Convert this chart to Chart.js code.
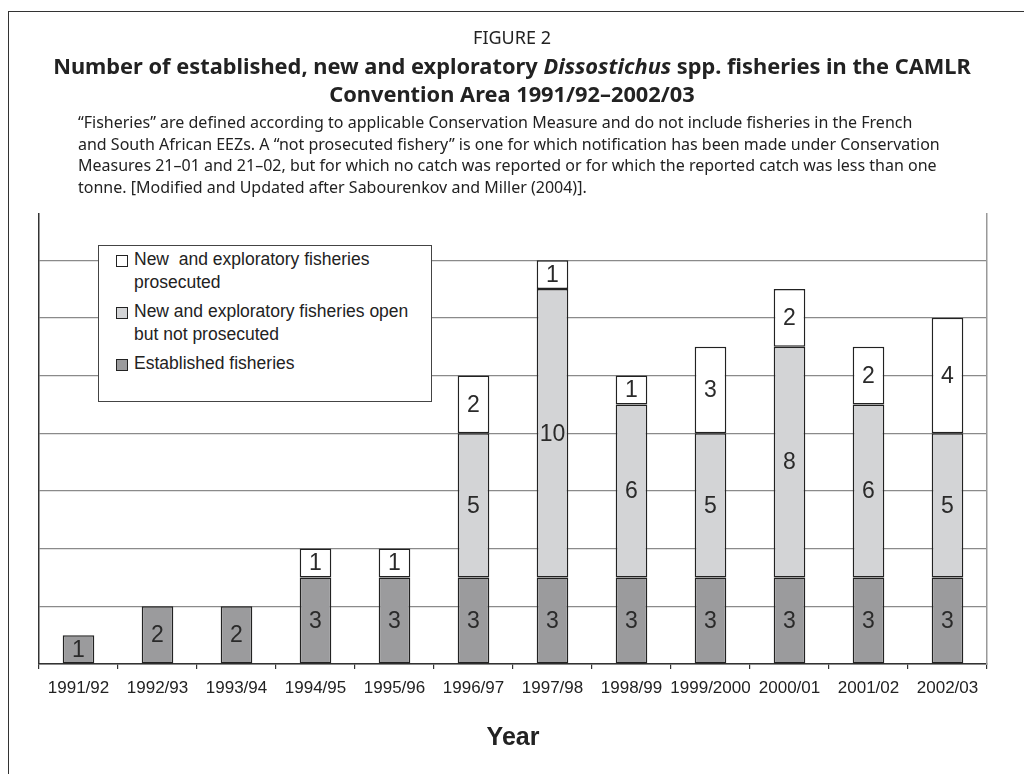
<!DOCTYPE html>
<html>
<head>
<meta charset="utf-8">
<script src="https://cdn.jsdelivr.net/npm/chart.js@4/dist/chart.umd.min.js"></script>
<style>
  html, body { margin:0; padding:0; background:#fff; }
  #wrap { position:relative; width:1024px; height:774px; overflow:hidden; }
  #frame { position:absolute; left:8px; top:11px; width:1100px; height:900px; border-top:1.5px solid #333; border-left:1.5px solid #333; }
  canvas#c { position:absolute; left:0; top:0; }
  .hd { position:absolute; left:0; width:1024px; text-align:center; color:#222; font-family:"Noto Sans",sans-serif; white-space:nowrap; }
  #fig { top:25px; font-size:18px; line-height:24px; }
  #ttl { top:52px; font-size:21.8px; font-weight:bold; line-height:28px; }
  #note { position:absolute; left:78px; top:112px; width:1000px; font-family:"Noto Sans",sans-serif; font-size:16px; line-height:21.5px; color:#222; white-space:nowrap; }
  #legend { position:absolute; left:98px; top:245px; width:332px; height:155px; border:1.5px solid #444; background:#fff; font-family:"Liberation Sans",Arial,sans-serif; font-size:17.5px; color:#222; }
  .it { position:absolute; left:35px; line-height:23px; white-space:pre; }
  .sw { position:absolute; left:17px; width:10px; height:10px; border:1.3px solid #222; }
</style>
</head>
<body>
<div id="wrap">
  <div id="frame"></div>
  <canvas id="c" width="1024" height="774"></canvas>
  <div class="hd" id="fig">FIGURE 2</div>
  <div class="hd" id="ttl">Number of established, new and exploratory <i>Dissostichus</i> spp. fisheries in the CAMLR<br>Convention Area 1991/92–2002/03</div>
  <div id="note">“Fisheries” are defined according to applicable Conservation Measure and do not include fisheries in the French<br>and South African EEZs. A “not prosecuted fishery” is one for which notification has been made under Conservation<br>Measures 21–01 and 21–02, but for which no catch was reported or for which the reported catch was less than one<br>tonne. [Modified and Updated after Sabourenkov and Miller (2004)].</div>
  <div id="legend"></div>
</div>
<script>
const categories = ["1991/92","1992/93","1993/94","1994/95","1995/96","1996/97","1997/98","1998/99","1999/2000","2000/01","2001/02","2002/03"];
const established = [1,2,2,3,3,3,3,3,3,3,3,3];
const openNotProsecuted = [null,null,null,null,null,5,10,6,5,8,6,5];
const prosecuted = [null,null,null,1,1,2,1,1,3,2,2,4];
const seriesNames = ["Established fisheries","New and exploratory fisheries open\nbut not prosecuted","New  and exploratory fisheries\nprosecuted"];
const seriesColors = ["#9b9b9d","#d3d4d6","#ffffff"];
const yMax = 15.6;
const yStep = 2;

// legend (reverse order, as in the figure)
(function(){
  const lg = document.getElementById('legend');
  const tops = [0, 52, 104];
  const order = [2,1,0];
  order.forEach((si, k) => {
    const t = tops[k];
    const sw = document.createElement('div');
    sw.className = 'sw'; sw.style.top = (t + 9) + 'px'; sw.style.background = seriesColors[si];
    lg.appendChild(sw);
    const tx = document.createElement('div');
    tx.className = 'it'; tx.style.top = (t + 2) + 'px'; tx.textContent = seriesNames[si];
    lg.appendChild(tx);
  });
})();

const labelPlugin = {
  id: 'segLabels',
  afterDatasetsDraw(chart) {
    const ctx = chart.ctx;
    ctx.save();
    ctx.font = '23px "Liberation Sans", Arial, sans-serif';
    ctx.fillStyle = '#2a2a2a';
    ctx.textAlign = 'center';
    ctx.textBaseline = 'middle';
    chart.data.datasets.forEach((ds, di) => {
      const meta = chart.getDatasetMeta(di);
      meta.data.forEach((el, i) => {
        const v = ds.data[i];
        if (v === null || v === undefined) return;
        ctx.fillText(String(v), el.x, (el.y + el.base) / 2 + 1);
      });
    });
    ctx.restore();
  }
};

new Chart(document.getElementById('c'), {
  type: 'bar',
  data: {
    labels: categories,
    datasets: [
      { label: seriesNames[0], data: established, backgroundColor: seriesColors[0] },
      { label: seriesNames[1], data: openNotProsecuted, backgroundColor: seriesColors[1] },
      { label: seriesNames[2], data: prosecuted, backgroundColor: seriesColors[2] }
    ].map(d => Object.assign(d, { borderColor: '#222', borderWidth: 1.5, borderSkipped: false, categoryPercentage: 1, barPercentage: 0.4 }))
  },
  options: {
    responsive: false,
    animation: false,
    events: [],
    layout: { padding: { left: 39, right: 37, top: 214, bottom: 0 } },
    plugins: { legend: { display: false }, title: { display: false }, tooltip: { enabled: false } },
    scales: {
      x: {
        stacked: true,
        grid: { display: true, drawOnChartArea: false, drawTicks: true, tickLength: 5, color: '#333', lineWidth: 1.2, offset: true },
        border: { display: true, color: '#333', width: 1.5 },
        ticks: { color: '#222', font: { family: '"Liberation Sans", Arial, sans-serif', size: 17 }, padding: 9, maxRotation: 0, autoSkip: false },
        title: { display: true, text: 'Year', color: '#222', font: { family: '"Liberation Sans", Arial, sans-serif', size: 25, weight: 'bold' }, padding: { top: 0, bottom: 21 } },
        afterFit(s) { s.height = 110; }
      },
      y: {
        stacked: true,
        min: 0, max: yMax,
        grid: { color: c => (c.tick && c.tick.value % yStep === 0) ? '#8a8a8a' : 'rgba(0,0,0,0)', lineWidth: 1.2, drawTicks: false },
        border: { display: true, color: '#333', width: 1.5 },
        ticks: { display: false, stepSize: yStep },
        afterFit(s) { s.width = 0; }
      },
      y2: {
        position: 'right',
        min: 0, max: yMax,
        grid: { drawOnChartArea: false, drawTicks: false },
        border: { display: true, color: '#999', width: 1.5 },
        ticks: { display: false },
        afterFit(s) { s.width = 0; }
      }
    }
  },
  plugins: [labelPlugin]
});
</script>
</body>
</html>
